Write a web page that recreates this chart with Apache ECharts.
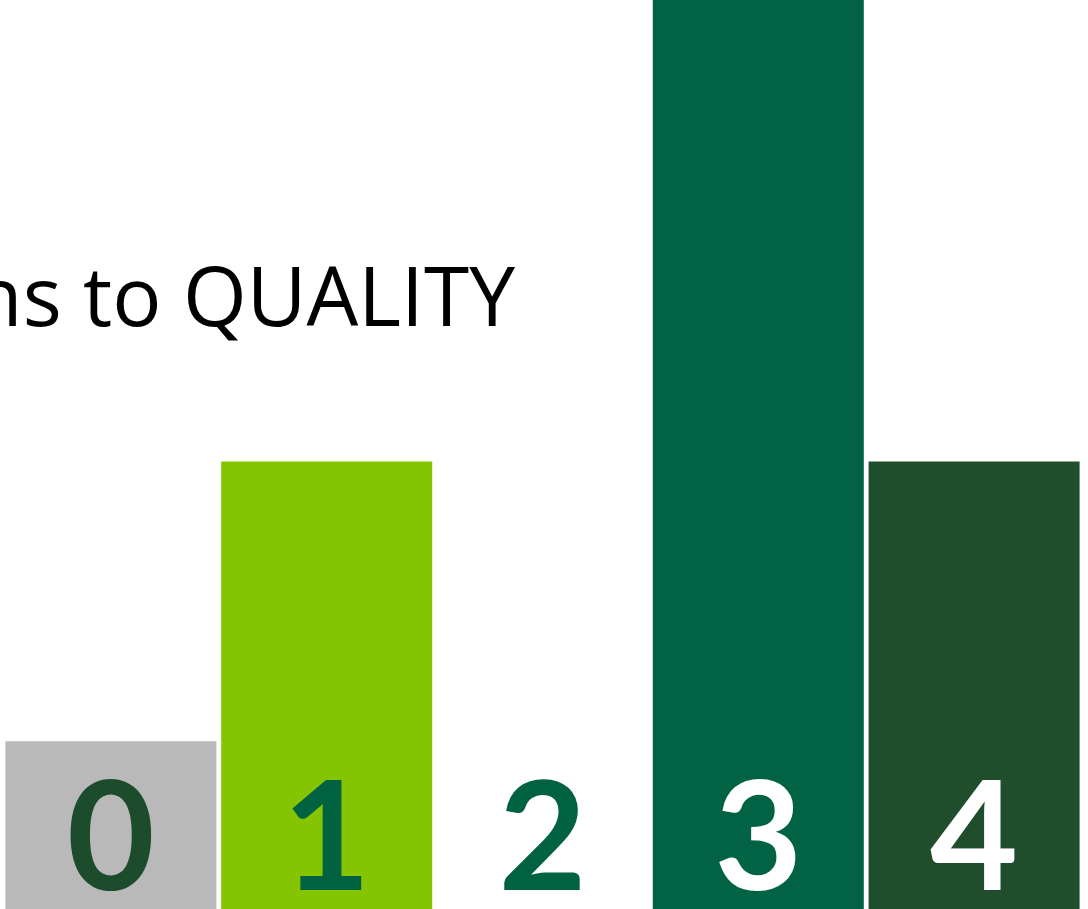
<!DOCTYPE html>
<html><head><meta charset="utf-8">
<script src="https://cdn.jsdelivr.net/npm/echarts@6/dist/echarts.min.js"></script>
<style>html,body{margin:0;padding:0;background:#fff}#c{width:1088px;height:909px}</style>
</head><body><div id="c"></div>
<script>
const categories = ['0', '1', '2', '3', '4'];
const values = [3, 8, 0, 17, 8];
const barColors = ['#b9b9b9', '#84c401', '#ffffff', '#026244', '#204e2d'];
const labelColors = ['#1d4c2c', '#006241', '#006241', '#ffffff', '#ffffff'];
const titleText = 'Reactions to QUALITY';

const chart = echarts.init(document.getElementById('c'));
chart.setOption({
  animation: false,
  grid: { left: 3, right: 6, top: 0, bottom: 0, containLabel: false },
  xAxis: { type: 'category', data: categories, show: false },
  yAxis: { type: 'value', min: 0, max: 16.25, show: false },
  graphic: [{
    type: 'text', right: 573, top: 262,
    style: { text: titleText, font: '82px "Open Sans"', fill: '#000', textAlign: 'right' }
  }],
  series: [{
    type: 'bar',
    barWidth: 211,
    clip: true,
    data: values.map((v, i) => ({
      value: v,
      itemStyle: { color: barColors[i] },
      label: { color: labelColors[i] }
    })),
    label: {
      show: true,
      position: 'insideBottom',
      distance: 0,
      offset: [0, 8],
      formatter: (p) => categories[p.dataIndex],
      fontFamily: 'Lato',
      fontWeight: 'bold',
      fontSize: 152,
      lineHeight: 152
    }
  }]
});
</script></body></html>
